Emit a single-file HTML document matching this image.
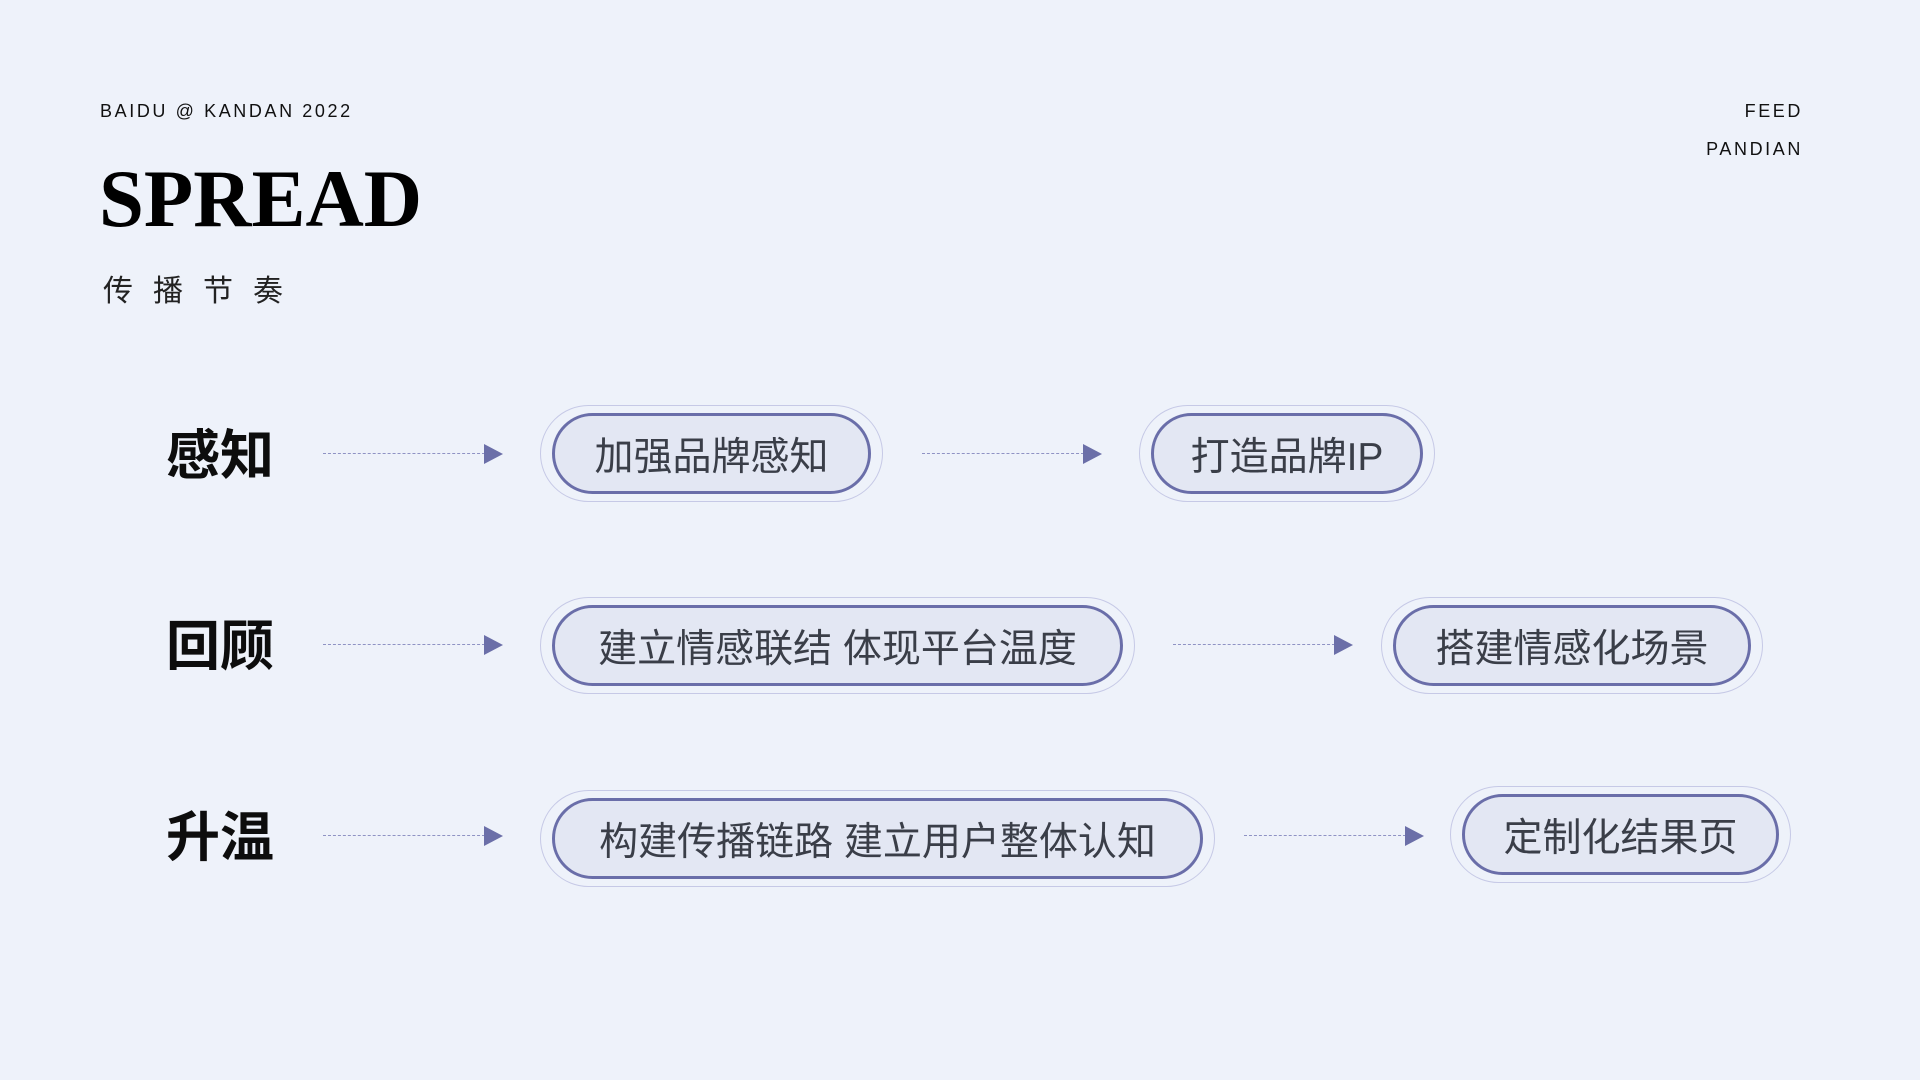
<!DOCTYPE html>
<html><head><meta charset="utf-8"><style>
body{margin:0;width:1920px;height:1080px;background:#eef2fa;position:relative;overflow:hidden;font-family:"Liberation Sans","Noto Sans CJK SC",sans-serif}
.a{position:absolute}
.hd{font-size:18px;color:#111;letter-spacing:2.6px}
.lab{position:absolute;left:166px;font-size:54px;font-weight:bold;color:#0d0d0d;line-height:1;font-family:"Noto Sans CJK SC",sans-serif}
.dash{position:absolute;height:0;border-top:1.5px dashed #8f93c4}
.tri{position:absolute;width:0;height:0;border-top:10px solid transparent;border-bottom:10px solid transparent;border-left:19px solid #6b6fa8}
.out{position:absolute;border:1.5px solid #c6c9e6;border-radius:60px;box-sizing:border-box}
.in{position:absolute;border:3px solid #6a6ea9;border-radius:50px;background:#e3e7f3;box-sizing:border-box;display:flex;align-items:center;justify-content:center;font-size:39px;color:#3a3e48;font-family:"Liberation Sans","Noto Sans CJK SC",sans-serif;white-space:nowrap}
</style></head><body>
<div class="a hd" style="left:100px;top:101px">BAIDU @ KANDAN 2022</div>
<div class="a hd" style="right:117px;top:101px">FEED</div>
<div class="a hd" style="right:117px;top:139px">PANDIAN</div>
<div class="a" style="left:99px;top:158px;font-family:'Liberation Serif',serif;font-weight:bold;font-size:82px;line-height:1;color:#000;letter-spacing:0px;transform:scaleX(0.985);transform-origin:left">SPREAD</div>
<div class="a" style="left:103px;top:270px;font-size:30px;letter-spacing:20px;color:#222;font-family:'Noto Sans CJK SC',sans-serif;line-height:1.2">传播节奏</div>

<div class="lab" style="top:424px">感知</div>
<div class="lab" style="top:615px">回顾</div>
<div class="lab" style="top:806px">升温</div>

<div class="dash" style="left:323px;width:162px;top:453px"></div><div class="tri" style="left:484px;top:444px"></div>
<div class="out" style="left:540px;width:343px;top:405px;height:97px"></div>
<div class="in" style="left:552px;width:319px;top:413px;height:81px">加强品牌感知</div>
<div class="dash" style="left:922px;width:162px;top:453px"></div><div class="tri" style="left:1083px;top:444px"></div>
<div class="out" style="left:1139px;width:296px;top:405px;height:97px"></div>
<div class="in" style="left:1151px;width:272px;top:413px;height:81px">打造品牌IP</div>

<div class="dash" style="left:323px;width:162px;top:644px"></div><div class="tri" style="left:484px;top:635px"></div>
<div class="out" style="left:540px;width:595px;top:597px;height:97px"></div>
<div class="in" style="left:552px;width:571px;top:605px;height:81px">建立情感联结&nbsp;体现平台温度</div>
<div class="dash" style="left:1173px;width:162px;top:644px"></div><div class="tri" style="left:1334px;top:635px"></div>
<div class="out" style="left:1381px;width:382px;top:597px;height:97px"></div>
<div class="in" style="left:1393px;width:358px;top:605px;height:81px">搭建情感化场景</div>

<div class="dash" style="left:323px;width:162px;top:835px"></div><div class="tri" style="left:484px;top:826px"></div>
<div class="out" style="left:540px;width:675px;top:790px;height:97px"></div>
<div class="in" style="left:552px;width:651px;top:798px;height:81px">构建传播链路&nbsp;建立用户整体认知</div>
<div class="dash" style="left:1244px;width:162px;top:835px"></div><div class="tri" style="left:1405px;top:826px"></div>
<div class="out" style="left:1450px;width:341px;top:786px;height:97px"></div>
<div class="in" style="left:1462px;width:317px;top:794px;height:81px">定制化结果页</div>
</body></html>
